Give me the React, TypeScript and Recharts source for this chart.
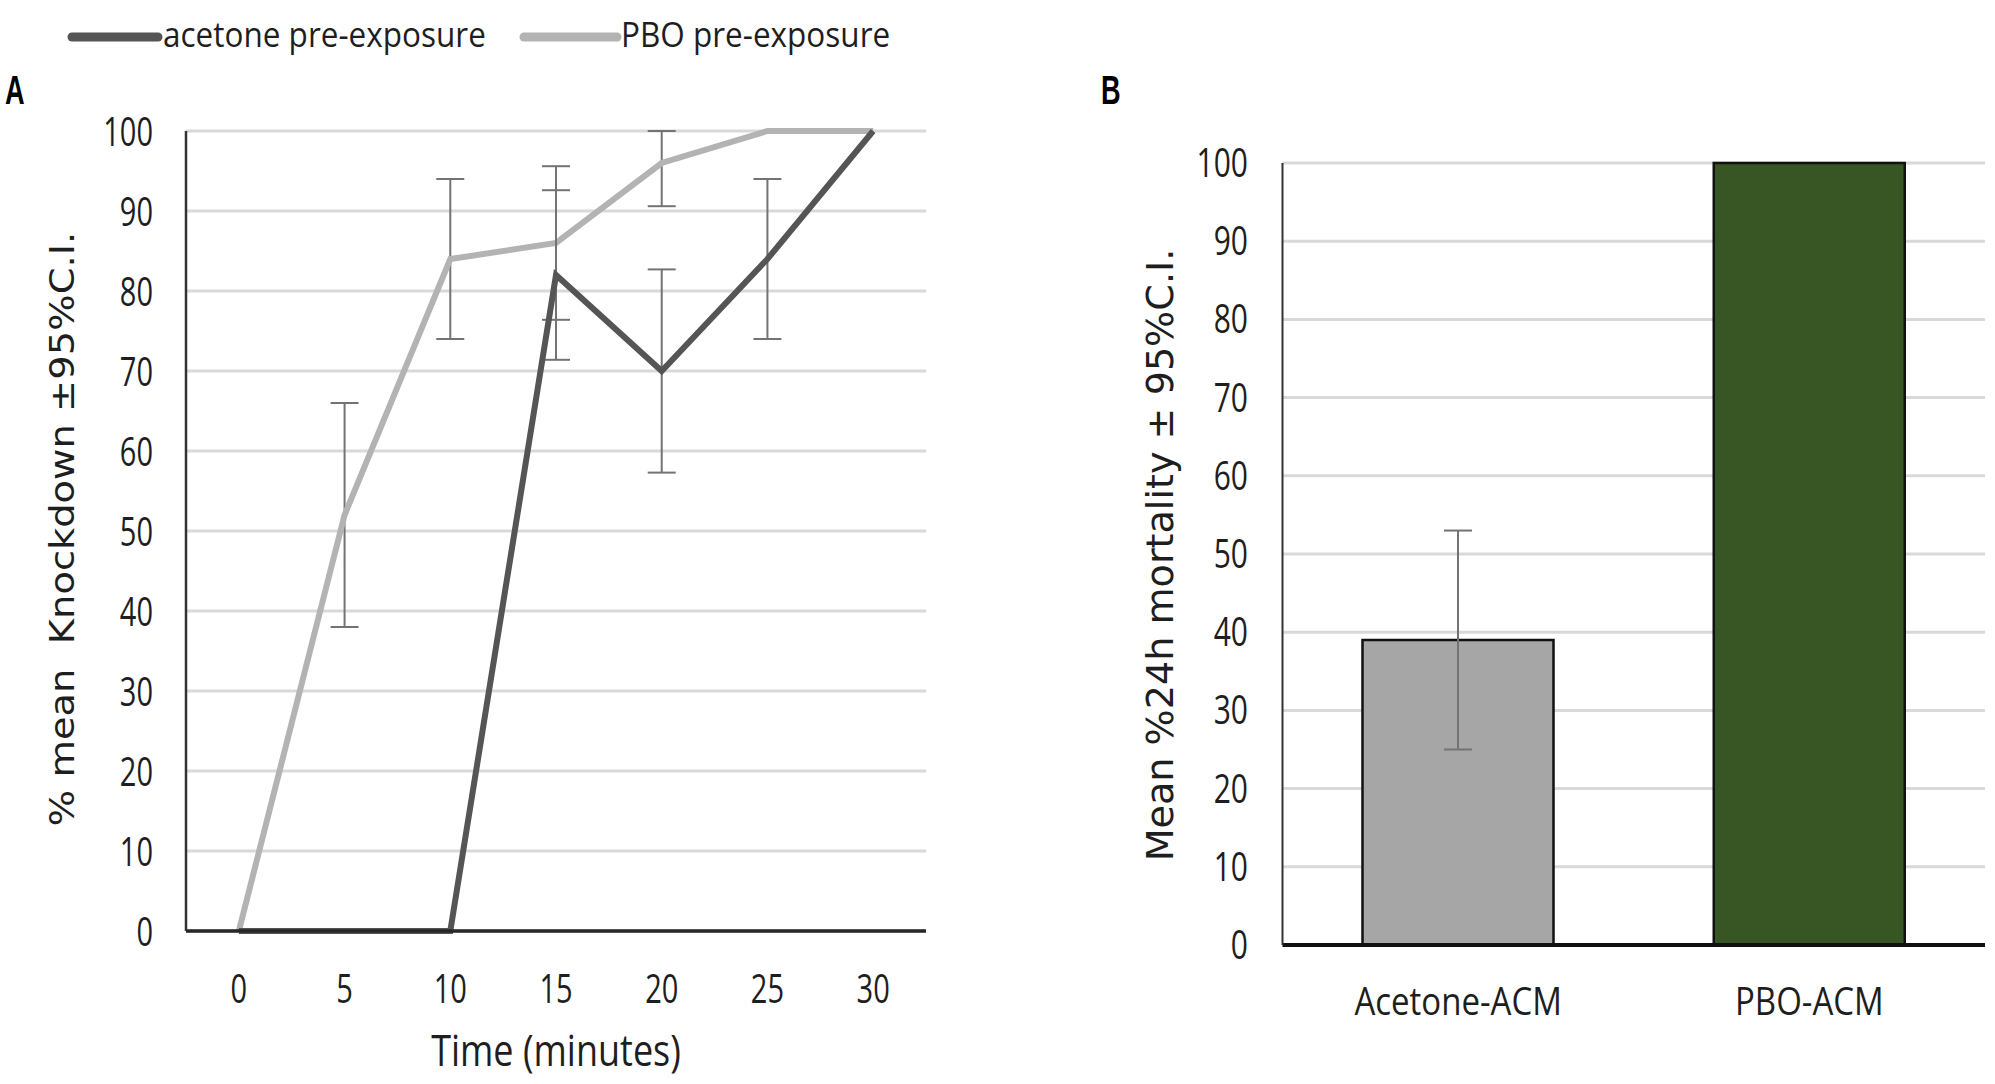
import React from 'react';
import { LineChart, Line, XAxis, YAxis, CartesianGrid, ErrorBar, Legend, BarChart, Bar, Cell } from 'recharts';

// ---------- Panel A data ----------
const times = [0, 5, 10, 15, 20, 25, 30];
const acetoneKnockdown = [0, 0, 0, 82, 70, 84, 100];
const pboKnockdown = [0, 52, 84, 86, 96, 100, 100];
const acetoneCI: (number | number[] | null)[] = [null, null, null, 10.6, 12.7, 10, null];
const pboCI: (number | number[] | null)[] = [null, 14, 10, 9.6, [5.4, 4], null, null];
const percentTicks = [0, 10, 20, 30, 40, 50, 60, 70, 80, 90, 100];
const seriesNames = ['acetone pre-exposure', 'PBO pre-exposure'];

// ---------- Panel B data ----------
const treatments = ['Acetone-ACM', 'PBO-ACM'];
const mortality = [39, 100];
const mortalityCI: (number | null)[] = [14, null];
const barColors = ['#a6a6a6', '#375623'];

const dataA = times.map((t, i) => ({
  t,
  acetone: acetoneKnockdown[i],
  pbo: pboKnockdown[i],
  acetoneErr: acetoneCI[i],
  pboErr: pboCI[i],
}));

const dataB = treatments.map((name, i) => ({
  name,
  value: mortality[i],
  err: mortalityCI[i],
}));

const FONT = '"Open Sans", sans-serif';
const VFONT = '"DejaVu Sans", sans-serif';
const ACETONE = '#555555';
const PBO = '#b3b3b3';
const GRID = '#d9d9d9';
const ERR = '#737373';
const TXT = '#1e1e1e';

function SText(props: any) {
  const { x, y, size, sx = 1, sy = 1, rotate = 0, anchor = 'start', family = FONT, weight = 400, fill = TXT, children } = props;
  return (
    <text
      transform={`translate(${x},${y}) rotate(${rotate}) scale(${sx},${sy})`}
      x={0}
      y={0}
      textAnchor={anchor}
      fontFamily={family}
      fontWeight={weight}
      fontSize={size}
      fill={fill}
      style={{ whiteSpace: 'pre' }}
    >
      {children}
    </text>
  );
}

const YTickA = (p: any) => (
  <SText x={153} y={p.y + 14.5} size={29} sy={1.4} anchor="end">{p.payload.value}</SText>
);
const XTickA = (p: any) => (
  <SText x={p.x} y={1003} size={29} sy={1.4} anchor="middle">{p.payload.value}</SText>
);
const YTickB = (p: any) => (
  <SText x={248} y={p.y + 14} size={30} sy={1.33} anchor="end">{p.payload.value}</SText>
);
const XTickB = (p: any) => (
  <SText x={p.x} y={1015} size={33} sy={1.15} anchor="middle">{p.payload.value}</SText>
);

const LegendA = () => (
  <div style={{ position: 'relative', height: 0, overflow: 'visible' }}>
    <svg width={960} height={70} style={{ position: 'absolute', left: 0, top: 0, overflow: 'visible' }}>
      <line x1={72} y1={37} x2={158} y2={37} stroke={ACETONE} strokeWidth={9} strokeLinecap="round" />
      <SText x={163} y={47} size={31.5} sy={1.12}>{seriesNames[0]}</SText>
      <line x1={524} y1={37} x2={617} y2={37} stroke={PBO} strokeWidth={9} strokeLinecap="round" />
      <SText x={621} y={47} size={31.5} sy={1.12}>{seriesNames[1]}</SText>
    </svg>
  </div>
);

export default function App() {
  return (
    <div style={{ position: 'absolute', left: 0, top: 0, width: 1995, height: 1084, background: '#fff', overflow: 'hidden' }}>
      <div style={{ position: 'absolute', left: 0, top: 0 }}>
        <LineChart width={960} height={1084} data={dataA} margin={{ top: 131, right: 34, bottom: 33, left: 0 }}>
          <CartesianGrid vertical={false} stroke={GRID} strokeWidth={3} />
          <XAxis
            type="number"
            dataKey="t"
            domain={[-2.5, 32.5]}
            ticks={times}
            height={120}
            tickLine={false}
            axisLine={{ stroke: '#262626', strokeWidth: 3.5 }}
            tick={XTickA}
            interval={0}
          />
          <YAxis
            type="number"
            domain={[0, 100]}
            ticks={percentTicks}
            width={186}
            tickLine={false}
            axisLine={{ stroke: '#333', strokeWidth: 2.5 }}
            tick={YTickA}
            interval={0}
          />
          <Legend content={LegendA} wrapperStyle={{ top: 0, left: 0, width: 960, height: 0 }} />
          <Line type="linear" dataKey="pbo" stroke={PBO} strokeWidth={6} dot={false} isAnimationActive={false}>
            <ErrorBar dataKey="pboErr" direction="y" width={14} stroke={ERR} strokeWidth={2} />
          </Line>
          <Line type="linear" dataKey="acetone" stroke={ACETONE} strokeWidth={6} dot={false} isAnimationActive={false}>
            <ErrorBar dataKey="acetoneErr" direction="y" width={14} stroke={ERR} strokeWidth={2} />
          </Line>
          <SText x={5} y={104} size={40} sx={0.68} weight={700} family='"Liberation Sans", sans-serif' fill="#000">A</SText>
          <SText x={73.5} y={529} size={34} sx={1.13} rotate={-90} anchor="middle" family={VFONT}>% mean  Knockdown ±95%C.I.</SText>
          <SText x={556} y={1066} size={36} sy={1.2} anchor="middle">Time (minutes)</SText>
        </LineChart>
      </div>
      <div style={{ position: 'absolute', left: 1000, top: 0 }}>
        <BarChart width={995} height={1084} data={dataB} margin={{ top: 163, right: 10, bottom: 39, left: 0 }}>
          <CartesianGrid vertical={false} stroke={GRID} strokeWidth={3} />
          <XAxis
            dataKey="name"
            height={100}
            tickLine={false}
            axisLine={{ stroke: '#111', strokeWidth: 4 }}
            tick={XTickB}
            interval={0}
          />
          <YAxis
            type="number"
            domain={[0, 100]}
            ticks={percentTicks}
            width={282.5}
            tickLine={false}
            axisLine={{ stroke: '#333', strokeWidth: 2 }}
            tick={YTickB}
            interval={0}
          />
          <Bar dataKey="value" barSize={191} stroke="#111" strokeWidth={2.5} isAnimationActive={false}>
            {dataB.map((d, i) => (
              <Cell key={d.name} fill={barColors[i]} />
            ))}
            <ErrorBar dataKey="err" direction="y" width={14} stroke={ERR} strokeWidth={2} />
          </Bar>
          <SText x={101} y={104} size={40} sx={0.68} weight={700} family='"Liberation Sans", sans-serif' fill="#000">B</SText>
          <SText x={173} y={555} size={37} sx={1.03} rotate={-90} anchor="middle" family={VFONT}>Mean %24h mortality ± 95%C.I.</SText>
        </BarChart>
      </div>
    </div>
  );
}
